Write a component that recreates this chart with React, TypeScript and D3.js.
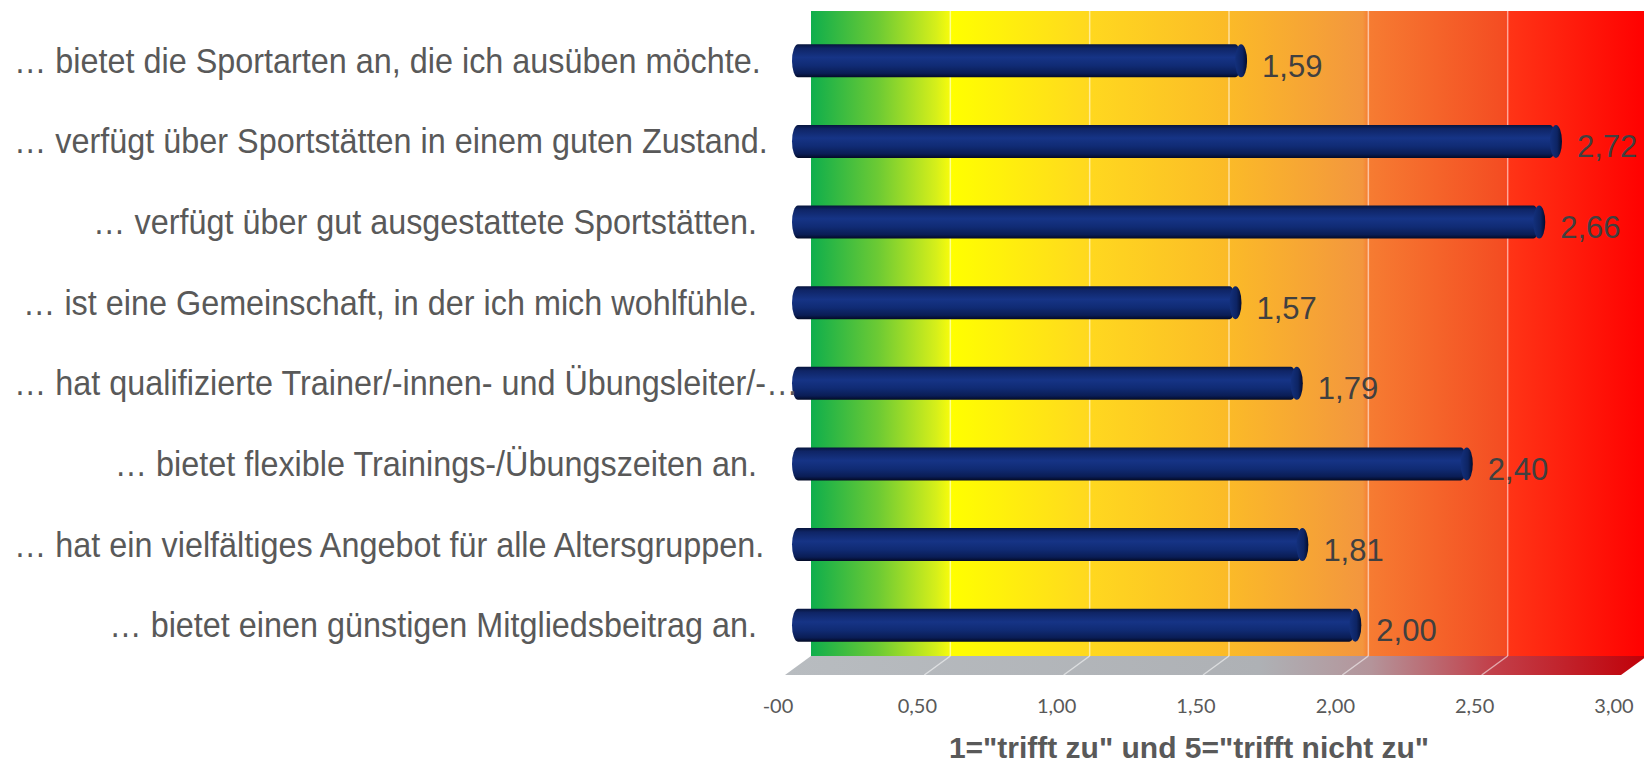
import React, { useRef, useEffect } from 'react';
import * as d3 from 'd3';

const categories = [
  '… bietet die Sportarten an, die ich ausüben möchte.',
  '… verfügt über Sportstätten in einem guten Zustand.',
  '… verfügt über gut ausgestattete Sportstätten.',
  '… ist eine Gemeinschaft, in der ich mich wohlfühle.',
  '… hat qualifizierte Trainer/-innen- und Übungsleiter/-…',
  '… bietet flexible Trainings-/Übungszeiten an.',
  '… hat ein vielfältiges Angebot für alle Altersgruppen.',
  '… bietet einen günstigen Mitgliedsbeitrag an.',
];
const values = [1.59, 2.72, 2.66, 1.57, 1.79, 2.4, 1.81, 2.0];
const tickValues = [0, 0.5, 1, 1.5, 2, 2.5, 3];
const tickLabels = ['-00', '0,50', '1,00', '1,50', '2,00', '2,50', '3,00'];
const axisTitle = '1="trifft zu" und 5="trifft nicht zu"';

const W = 1644;
const H = 763;

const App = () => {
  const ref = useRef<SVGSVGElement | null>(null);

  useEffect(() => {
    if (!ref.current) return;
    const svg = d3.select(ref.current);
    svg.selectAll('*').remove();

    // back wall and depth offsets (fake 3d)
    const wall = { left: 811, right: 1647, top: 11, bottom: 656 };
    const depth = { dx: -26, dy: 19 };

    const x = d3.scaleLinear().domain([0, 3]).range([wall.left, wall.right]);
    const y = d3.scaleBand().domain(categories).range([wall.top, wall.bottom]);

    const defs = svg.append('defs');

    const wallGrad = defs.append('linearGradient')
      .attr('id', 'wallGrad')
      .attr('gradientUnits', 'userSpaceOnUse')
      .attr('x1', wall.left).attr('x2', wall.right).attr('y1', 0).attr('y2', 0);
    [
      [0, '#0fae4c'], [0.08, '#6cca34'], [0.15, '#d6ef1a'], [0.166, '#f6fb0c'],
      [0.167, '#ffff00'], [0.333, '#ffd81f'], [0.5, '#fbba28'], [0.66, '#f3963e'],
      [0.667, '#f67c32'], [0.83, '#f44c22'], [0.835, '#ff3416'], [1, '#ff0000'],
    ].forEach(([o, c]) => wallGrad.append('stop').attr('offset', o).attr('stop-color', c as string));

    const floorGrad = defs.append('linearGradient')
      .attr('id', 'floorGrad')
      .attr('gradientUnits', 'userSpaceOnUse')
      .attr('x1', wall.left + depth.dx).attr('x2', wall.right).attr('y1', 0).attr('y2', 0);
    [
      [0, '#b8bcc0'], [0.55, '#aeb1b5'], [0.68, '#b4949a'], [0.82, '#c2404a'], [1, '#c00008'],
    ].forEach(([o, c]) => floorGrad.append('stop').attr('offset', o).attr('stop-color', c as string));

    const barGrad = defs.append('linearGradient')
      .attr('id', 'barGrad').attr('x1', 0).attr('x2', 0).attr('y1', 0).attr('y2', 1);
    [
      [0, '#07153d'], [0.12, '#0f2566'], [0.4, '#163486'], [0.65, '#102b74'], [0.88, '#0a1d55'], [1, '#030a26'],
    ].forEach(([o, c]) => barGrad.append('stop').attr('offset', o).attr('stop-color', c as string));

    const capGrad = defs.append('linearGradient')
      .attr('id', 'capGrad').attr('x1', 0).attr('x2', 1).attr('y1', 0).attr('y2', 0);
    [[0, '#13307c'], [0.6, '#0d2463'], [1, '#040c2c']]
      .forEach(([o, c]) => capGrad.append('stop').attr('offset', o).attr('stop-color', c as string));

    // wall
    svg.append('rect')
      .attr('x', wall.left).attr('y', wall.top)
      .attr('width', wall.right - wall.left).attr('height', wall.bottom - wall.top)
      .attr('fill', 'url(#wallGrad)');

    // floor
    const floorPts = [
      [wall.left, wall.bottom], [wall.right, wall.bottom],
      [wall.right + depth.dx, wall.bottom + depth.dy], [wall.left + depth.dx, wall.bottom + depth.dy],
    ];
    svg.append('path')
      .attr('d', d3.line()(floorPts as [number, number][]) + 'Z')
      .attr('fill', 'url(#floorGrad)');

    // gridlines on wall and floor
    const grid = svg.append('g').attr('stroke', 'rgba(255,255,255,0.55)').attr('stroke-width', 1.5);
    grid.selectAll('line.v')
      .data(tickValues.slice(1, -1))
      .join('line')
      .attr('x1', d => x(d)).attr('x2', d => x(d))
      .attr('y1', wall.top).attr('y2', wall.bottom);
    grid.selectAll('line.f')
      .data(tickValues.slice(1, -1))
      .join('line')
      .attr('x1', d => x(d)).attr('y1', wall.bottom)
      .attr('x2', d => x(d) + depth.dx).attr('y2', wall.bottom + depth.dy);

    // bars, drawn at half depth
    const thick = 33;
    const capR = 6;
    const bars = svg.append('g');
    categories.forEach((c, i) => {
      const cy = (y(c) as number) + y.bandwidth() / 2 + depth.dy / 2;
      const x0 = x(0) + depth.dx / 2;
      const x1 = x(values[i]) + depth.dx / 2;
      const g = bars.append('g');
      g.append('rect')
        .attr('x', x0 - capR).attr('y', cy - thick / 2)
        .attr('width', x1 - x0 + capR).attr('height', thick)
        .attr('rx', capR).attr('ry', thick / 2)
        .attr('fill', 'url(#barGrad)');
      g.append('ellipse')
        .attr('cx', x1).attr('cy', cy)
        .attr('rx', capR).attr('ry', thick / 2)
        .attr('fill', 'url(#capGrad)');

      g.append('text')
        .attr('x', x1 + capR + 15).attr('y', cy + 16)
        .attr('font-family', 'Liberation Sans, Arial, sans-serif')
        .attr('font-size', 31)
        .attr('fill', '#404040')
        .text(d3.format('.2f')(values[i]).replace('.', ','));
    });

    // category labels (slightly condensed like the original)
    const sx = 0.925;
    const labels = svg.append('g')
      .attr('font-family', 'Liberation Sans, Arial, sans-serif')
      .attr('font-size', 35)
      .attr('fill', '#595959');
    categories.forEach(c => {
      const cy = (y(c) as number) + y.bandwidth() / 2 + depth.dy / 2;
      const t = labels.append('text')
        .attr('transform', `translate(757,${cy + 12}) scale(${sx},1)`)
        .attr('text-anchor', 'end')
        .text(c);
      const len = (t.node() as SVGTextElement).getComputedTextLength() * sx;
      if (len > 745) {
        t.attr('transform', `translate(14,${cy + 12}) scale(${sx},1)`).attr('text-anchor', 'start');
      }
    });

    // x tick labels along front edge of the floor
    svg.append('g')
      .attr('font-family', 'Lato, Carlito, sans-serif')
      .attr('font-size', 20)
      .attr('fill', '#595959')
      .attr('text-anchor', 'middle')
      .selectAll('text')
      .data(tickValues)
      .join('text')
      .attr('x', d => x(d) + depth.dx - 7)
      .attr('y', 713)
      .text((d, i) => tickLabels[i]);

    svg.append('text')
      .attr('x', 1189).attr('y', 758)
      .attr('text-anchor', 'middle')
      .attr('font-family', 'Liberation Sans, Arial, sans-serif')
      .attr('font-weight', 'bold')
      .attr('font-size', 30)
      .attr('fill', '#595959')
      .text(axisTitle);
  }, []);

  return (
    <svg ref={ref} width={W} height={H} style={{ position: 'absolute', left: 0, top: 0 }} />
  );
};

export default App;
